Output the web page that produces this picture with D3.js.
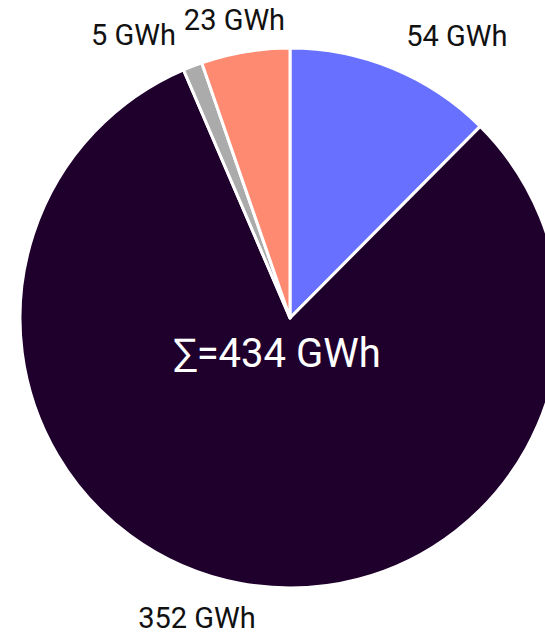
<!DOCTYPE html>
<html>
<head>
<meta charset="utf-8">
<script src="https://cdn.jsdelivr.net/npm/d3@7"></script>
<style>
  html, body { margin: 0; padding: 0; background: #fff; }
  svg { display: block; overflow: hidden; }
  text { font-family: Roboto, "Open Sans", sans-serif; }
</style>
</head>
<body>
<svg id="chart" width="545" height="634"></svg>
<script>
// Energy by source, GWh
const categories = ["A", "B", "C", "D"];
const values = [54, 352, 5, 23];
const colors = ["#6770FF", "#1F002C", "#ABABAB", "#FF8A72"];
const unit = "GWh";

const width = 545, height = 634;
const cx = 290, cy = 318, radius = 270, labelRadius = 305;
// small offsets so neighbouring labels do not collide
const labelNudgeX = [0, -36, -4, -5];
const labelNudgeY = [0, 0, 1, 3];

const svg = d3.select("#chart");
const g = svg.append("g").attr("transform", `translate(${cx},${cy})`);

const pie = d3.pie().sort(null).value(d => d.value);
const arcs = pie(categories.map((c, i) => ({ cat: c, value: values[i], i })));
const arc = d3.arc().innerRadius(0).outerRadius(radius);

g.selectAll("path.slice")
  .data(arcs)
  .join("path")
  .attr("class", "slice")
  .attr("d", arc)
  .attr("fill", d => colors[d.data.i])
  .attr("stroke", "#fff")
  .attr("stroke-width", 3)
  .attr("stroke-linejoin", "round");

g.selectAll("text.lbl")
  .data(arcs)
  .join("text")
  .attr("class", "lbl")
  .each(function (d) {
    const a = (d.startAngle + d.endAngle) / 2;
    const s = Math.sin(a), c = Math.cos(a);
    const x = labelRadius * s + labelNudgeX[d.data.i];
    const y = -labelRadius * c + labelNudgeY[d.data.i];
    d3.select(this)
      .attr("x", x)
      .attr("y", y)
      .attr("dy", "0.35em")
      .attr("text-anchor", s > 0.3 ? "start" : s < -0.3 ? "end" : "middle");
  })
  .attr("font-size", 29)
  .attr("fill", "#111")
  .text(d => `${d.data.value} ${unit}`);

const total = d3.sum(values);
g.append("text")
  .attr("x", -13)
  .attr("y", 49)
  .attr("text-anchor", "middle")
  .attr("font-size", 40)
  .attr("fill", "#fff")
  .text(`∑=${total} ${unit}`);
</script>
</body>
</html>
